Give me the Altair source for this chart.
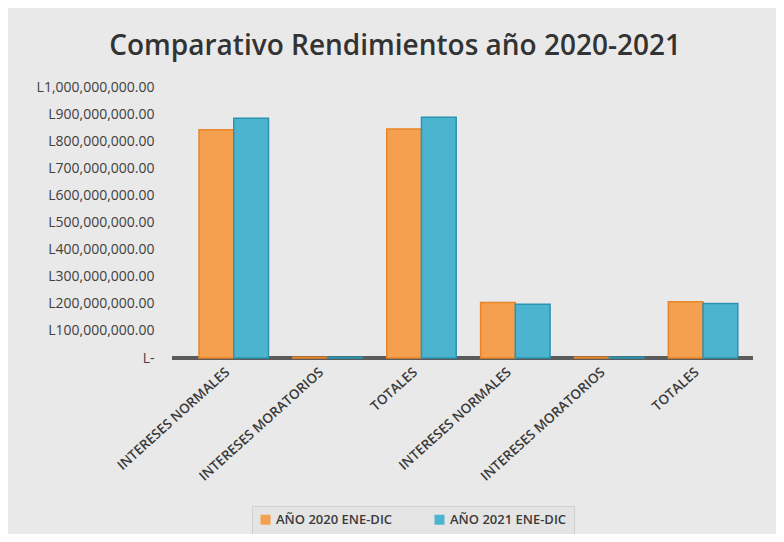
import json
import altair as alt
import pandas as pd

categories = ["INTERESES NORMALES", "INTERESES MORATORIOS", "TOTALES",
              "INTERESES NORMALES", "INTERESES MORATORIOS", "TOTALES"]
series = ["AÑO 2020 ENE-DIC", "AÑO 2021 ENE-DIC"]
v2020 = [842_000_000, 3_000_000, 845_000_000, 205_000_000, 3_000_000, 208_000_000]
v2021 = [885_000_000, 3_000_000, 888_000_000, 198_000_000, 3_000_000, 201_000_000]
y_ticks = [i * 100_000_000 for i in range(11)]

rows = []
for i, c in enumerate(categories):
    rows.append({"pos": i, "cat": c, "serie": series[0], "valor": v2020[i]})
    rows.append({"pos": i, "cat": c, "serie": series[1], "valor": v2021[i]})
df = pd.DataFrame(rows)

label_expr = json.dumps(categories) + "[datum.value]"
FONT = "Open Sans"

y_axis = alt.Axis(values=y_ticks, labelOverlap=False,
                  labelExpr="datum.value == 0 ? 'L-' : 'L' + format(datum.value, ',.2f')",
                  labelFontSize=14, labelColor="#404040", labelFont=FONT,
                  labelPadding=18, ticks=False, domain=False,
                  gridColor="#d2d2d2", gridWidth=1.2)
y_scale = alt.Scale(domain=[0, 1_000_000_000])

base = alt.Chart(df)

floor = base.mark_rule(color="#5a5a5a", strokeWidth=2.5).encode(
    y=alt.Y(datum=0, scale=y_scale, axis=y_axis, title=None))

bars = base.mark_bar(strokeWidth=1.5).encode(
    x=alt.X("pos:O", title=None,
            axis=alt.Axis(labelExpr=label_expr, labelAngle=-42, labelAlign="right",
                          labelBaseline="middle", labelFontSize=13.5, labelColor="#3a3a3a",
                          labelFont=FONT, labelFontWeight=600, labelPadding=12,
                          labelOffset=-6,
                          ticks=False, domain=False, labelOverlap=False),
            scale=alt.Scale(paddingInner=0.26, paddingOuter=0.225, align=0.64)),
    xOffset=alt.XOffset("serie:N", sort=series),
    y=alt.Y("valor:Q", title=None, scale=y_scale, axis=y_axis),
    color=alt.Color("serie:N", sort=series,
                    scale=alt.Scale(domain=series, range=["#F5A04E", "#4DB4D0"]),
                    legend=alt.Legend(title=None, orient="none", direction="horizontal",
                                      legendX=80, legendY=419, symbolType="square",
                                      symbolSize=100, symbolStrokeWidth=0,
                                      labelFontSize=13, labelColor="#3a3a3a", labelFont=FONT,
                                      labelFontWeight=600,
                                      columnPadding=40, padding=7,
                                      strokeColor="#d0d0d0", fillColor="#e4e4e4")),
    stroke=alt.Stroke("serie:N", sort=series,
                      scale=alt.Scale(domain=series, range=["#E8842A", "#2A93B0"]),
                      legend=None),
)

chart = alt.layer(floor, bars).properties(
    width=768, height=526,
    autosize=alt.AutoSizeParams(type="fit", contains="padding"),
    padding={"left": 28, "right": 21, "top": 25, "bottom": 51},
    background="#e9e9e9",
    title=alt.Title("Comparativo Rendimientos año 2020-2021", fontSize=28,
                    font=FONT, fontWeight=600, color="#333333", offset=19,
                    frame="bounds", anchor="middle"),
).configure_view(stroke=None)

chart.save("out.html", embed_options={"renderer": "svg", "actions": False})
